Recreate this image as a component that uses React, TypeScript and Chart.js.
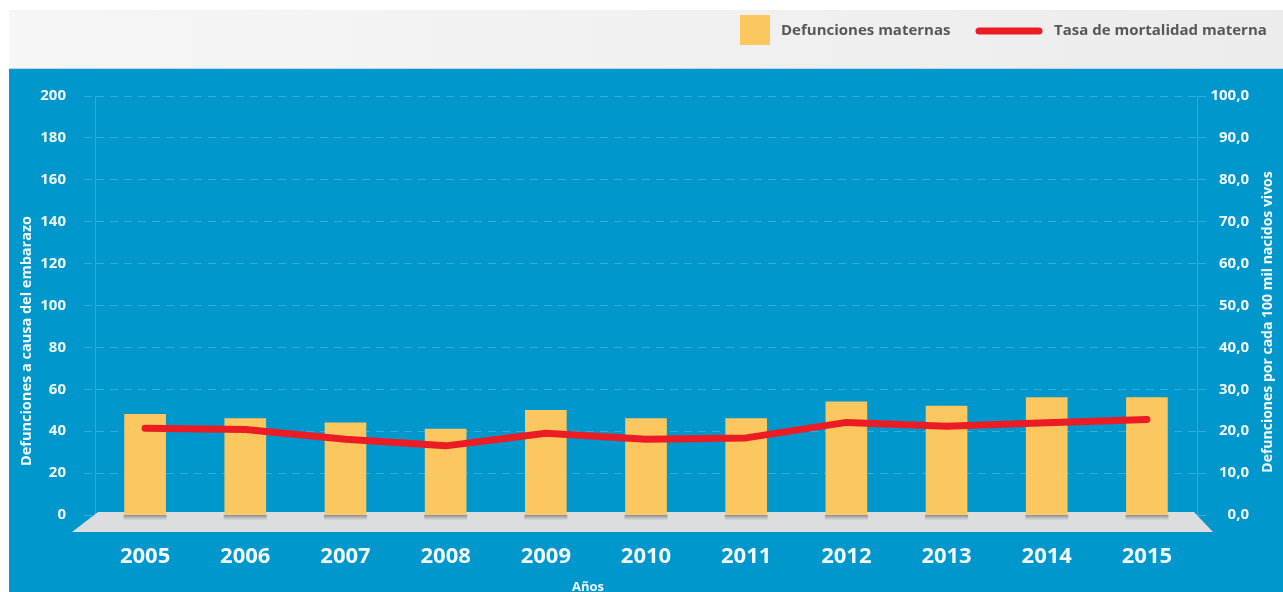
import React, { useEffect, useRef } from "react";
import { Chart, registerables } from "chart.js";

Chart.register(...registerables);

// ---- data ----
const years = ["2005", "2006", "2007", "2008", "2009", "2010", "2011", "2012", "2013", "2014", "2015"];
const maternalDeaths = [48, 46, 44, 41, 50, 46, 46, 54, 52, 56, 56];
const mortalityRate = [20.7, 20.4, 18.1, 16.5, 19.5, 18.1, 18.4, 22.1, 21.2, 22.0, 22.8];

const leftMin = 0;
const leftMax = 200;
const leftStep = 20;
const rightMin = 0;
const rightMax = 100;
const rightStep = 10;

const barLabel = "Defunciones maternas";
const lineLabel = "Tasa de mortalidad materna";
const leftTitle = "Defunciones a causa del embarazo";
const rightTitle = "Defunciones por cada 100 mil nacidos vivos";
const xTitle = "Años";

// ---- styles ----
const W = 1283;
const H = 592;
const BLUE = "#0097CD";
const BAR = "#FCC75E";
const RED = "#EC1C24";
const GRID = "#38ACDC";
const AXIS = "#2FA8DA";
const TEXT = "#F2F9FC";
const FONT = '"Open Sans", "Noto Sans", sans-serif';

const backdropPlugin = {
  id: "backdrop",
  beforeDraw(chart: any) {
    const ctx = chart.ctx;
    ctx.save();
    ctx.fillStyle = "#ffffff";
    ctx.fillRect(0, 0, W, H);
    const g = ctx.createLinearGradient(9, 0, W, 0);
    g.addColorStop(0, "#F6F6F6");
    g.addColorStop(1, "#ECECEC");
    ctx.fillStyle = g;
    ctx.fillRect(9, 10, W - 9, 59);
    ctx.fillStyle = BLUE;
    ctx.fillRect(9, 69, W - 9, H - 69);
    ctx.fillStyle = "#B9D8E6";
    ctx.fillRect(9, 68, W - 9, 1);
    ctx.restore();
  },
};

const floorPlugin = {
  id: "floor",
  beforeDatasetsDraw(chart: any) {
    const ctx = chart.ctx;
    const { left, right } = chart.chartArea;
    const y0 = chart.scales.y.getPixelForValue(0);
    ctx.save();
    ctx.fillStyle = "#DCDDDF";
    ctx.beginPath();
    ctx.moveTo(left + 3, y0 - 3);
    ctx.lineTo(right - 3, y0 - 3);
    ctx.lineTo(right + 16, y0 + 17);
    ctx.lineTo(left - 23, y0 + 17);
    ctx.closePath();
    ctx.fill();
    const meta = chart.getDatasetMeta(1);
    meta.data.forEach((el: any) => {
      const w = el.width;
      const g = ctx.createLinearGradient(0, y0, 0, y0 + 5);
      g.addColorStop(0, "rgba(110,110,110,0.75)");
      g.addColorStop(1, "rgba(150,150,150,0.1)");
      ctx.fillStyle = g;
      ctx.fillRect(el.x - w / 2 - 1, y0, w + 2, 5);
    });
    ctx.restore();
  },
};

const labelsPlugin = {
  id: "labelsOverlay",
  afterDraw(chart: any) {
    const ctx = chart.ctx;
    ctx.save();
    // legend
    ctx.fillStyle = BAR;
    ctx.fillRect(740, 15, 30, 30);
    ctx.font = `bold 15px ${FONT}`;
    ctx.fillStyle = "#55585B";
    ctx.textBaseline = "middle";
    ctx.textAlign = "left";
    ctx.fillText(barLabel, 781, 31);
    ctx.strokeStyle = RED;
    ctx.lineWidth = 7;
    ctx.lineCap = "round";
    ctx.beginPath();
    ctx.moveTo(979, 31);
    ctx.lineTo(1039, 31);
    ctx.stroke();
    ctx.fillText(lineLabel, 1054, 31);

    // axis titles
    ctx.fillStyle = TEXT;
    ctx.textAlign = "center";
    ctx.font = `bold 14.5px ${FONT}`;
    ctx.save();
    ctx.translate(27, 341);
    ctx.rotate(-Math.PI / 2);
    ctx.fillText(leftTitle, 0, 0);
    ctx.restore();
    ctx.font = `bold 14px ${FONT}`;
    ctx.save();
    ctx.translate(1268, 322);
    ctx.rotate(-Math.PI / 2);
    ctx.fillText(rightTitle, 0, 0);
    ctx.restore();
    ctx.font = `bold 13px ${FONT}`;
    ctx.fillText(xTitle, 588, 587);
    ctx.restore();
  },
};

export default function App() {
  const ref = useRef<HTMLCanvasElement | null>(null);

  useEffect(() => {
    document.body.style.margin = "0";
    const canvas = ref.current;
    if (!canvas) return;
    const chart = new Chart(canvas, {
      type: "bar",
      data: {
        labels: years,
        datasets: [
          {
            type: "line",
            label: lineLabel,
            data: mortalityRate,
            yAxisID: "y1",
            borderColor: RED,
            backgroundColor: RED,
            borderWidth: 7,
            borderCapStyle: "round",
            borderJoinStyle: "round",
            pointRadius: 0,
            tension: 0,
            order: 0,
          } as any,
          {
            type: "bar",
            label: barLabel,
            data: maternalDeaths,
            yAxisID: "y",
            backgroundColor: BAR,
            borderWidth: 0,
            barThickness: 41,
            order: 1,
          } as any,
        ],
      },
      options: {
        responsive: false,
        devicePixelRatio: 1,
        animation: false,
        layout: { padding: { top: 96, left: 0, right: 34, bottom: 0 } },
        plugins: {
          legend: { display: false },
          tooltip: { enabled: false },
          title: { display: false },
        },
        scales: {
          x: {
            grid: { display: false, drawTicks: false },
            border: { display: false },
            ticks: {
              color: TEXT,
              font: { family: FONT, size: 22, weight: "bold" },
              padding: 29,
              maxRotation: 0,
            },
            afterFit(s: any) {
              s.height = 77;
            },
          },
          y: {
            position: "left",
            min: leftMin,
            max: leftMax,
            ticks: {
              stepSize: leftStep,
              color: TEXT,
              font: { family: FONT, size: 15, weight: "bold" },
              padding: 18,
            },
            grid: {
              color: GRID,
              lineWidth: 1,
              tickLength: 11,
              tickBorderDash: [8, 6],
            },
            border: { display: true, color: AXIS, width: 1, dash: [8, 6] },
            afterFit(s: any) {
              s.width = 95;
            },
          },
          y1: {
            position: "right",
            min: rightMin,
            max: rightMax,
            ticks: {
              stepSize: rightStep,
              color: TEXT,
              font: { family: FONT, size: 15, weight: "bold" },
              padding: 3,
              crossAlign: "far",
              callback: (v: any) => Number(v).toFixed(1).replace(".", ","),
            },
            grid: {
              drawOnChartArea: false,
              color: GRID,
              tickLength: 9,
              tickBorderDash: [8, 6],
            },
            border: { display: true, color: AXIS, width: 1 },
            afterFit(s: any) {
              s.width = 52;
            },
          },
        },
      } as any,
      plugins: [backdropPlugin, floorPlugin, labelsPlugin],
    });
    return () => chart.destroy();
  }, []);

  return (
    <div style={{ position: "fixed", left: 0, top: 0, width: W, height: H }}>
      <canvas ref={ref} width={W} height={H} style={{ display: "block", width: W, height: H }} />
    </div>
  );
}
